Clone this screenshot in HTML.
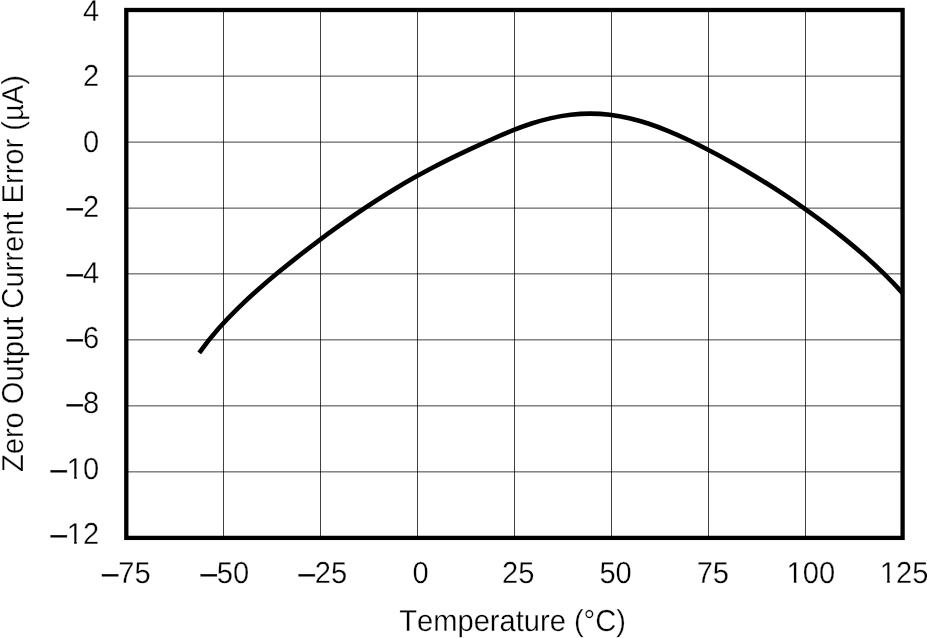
<!DOCTYPE html>
<html lang="en"><head><meta charset="utf-8"><title>Zero Output Current Error vs Temperature</title>
<style>html,body{margin:0;padding:0;background:#fff;width:927px;height:638px;overflow:hidden}</style></head>
<body>
<svg width="927" height="638" viewBox="0 0 927 638" style="display:block;position:absolute;left:0;top:0;font-kerning:none" font-family="'Liberation Sans', Arial, Helvetica, sans-serif" font-size="30.3" fill="#000" text-rendering="geometricPrecision">
<rect x="0" y="0" width="927" height="638" fill="#fff"/>
<g stroke="#000" stroke-width="0.75" fill="none"><line x1="223.50" y1="10.0" x2="223.50" y2="537.9"/><line x1="320.50" y1="10.0" x2="320.50" y2="537.9"/><line x1="417.50" y1="10.0" x2="417.50" y2="537.9"/><line x1="514.50" y1="10.0" x2="514.50" y2="537.9"/><line x1="611.50" y1="10.0" x2="611.50" y2="537.9"/><line x1="708.50" y1="10.0" x2="708.50" y2="537.9"/><line x1="805.50" y1="10.0" x2="805.50" y2="537.9"/><line x1="126.3" y1="76.12" x2="902.6" y2="76.12"/><line x1="126.3" y1="142.12" x2="902.6" y2="142.12"/><line x1="126.3" y1="208.12" x2="902.6" y2="208.12"/><line x1="126.3" y1="273.87" x2="902.6" y2="273.87"/><line x1="126.3" y1="339.87" x2="902.6" y2="339.87"/><line x1="126.3" y1="405.87" x2="902.6" y2="405.87"/><line x1="126.3" y1="471.87" x2="902.6" y2="471.87"/></g>
<path d="M199.25,352.93 C205.77,343.78 212.28,335.74 218.80,328.35 C225.31,320.97 231.83,314.23 238.35,307.87 C244.86,301.51 251.38,295.52 257.90,289.75 C264.41,283.99 270.93,278.46 277.44,273.07 C283.96,267.69 290.48,262.45 296.99,257.33 C303.51,252.21 310.03,247.21 316.54,242.32 C323.06,237.43 329.57,232.64 336.09,227.97 C342.61,223.29 349.12,218.72 355.64,214.27 C362.16,209.81 368.67,205.47 375.19,201.25 C381.70,197.04 388.22,192.95 394.74,189.01 C401.25,185.06 407.77,181.26 414.28,177.60 C420.80,173.94 427.32,170.42 433.83,167.02 C440.35,163.62 446.87,160.35 453.38,157.18 C459.90,154.00 466.41,150.92 472.93,147.89 C479.45,144.87 485.96,141.90 492.48,139.00 C499.00,136.11 505.51,133.29 512.03,130.67 C518.54,128.04 525.06,125.61 531.58,123.50 C538.09,121.38 544.61,119.57 551.12,118.12 C557.64,116.67 564.16,115.56 570.67,114.81 C577.19,114.06 583.71,113.67 590.22,113.66 C596.74,113.64 603.25,114.01 609.77,114.77 C616.29,115.53 622.80,116.68 629.32,118.20 C635.84,119.72 642.35,121.60 648.87,123.77 C655.38,125.95 661.90,128.41 668.42,131.09 C674.93,133.77 681.45,136.67 687.97,139.74 C694.48,142.81 701.00,146.05 707.51,149.42 C714.03,152.79 720.55,156.30 727.06,159.93 C733.58,163.56 740.09,167.30 746.61,171.16 C753.13,175.01 759.64,178.98 766.16,183.07 C772.68,187.15 779.19,191.35 785.71,195.69 C792.22,200.02 798.74,204.48 805.26,209.08 C811.77,213.69 818.29,218.44 824.81,223.35 C831.32,228.25 837.84,233.32 844.35,238.59 C850.87,243.85 857.39,249.32 863.90,255.06 C870.42,260.79 876.94,266.80 883.45,273.19 C889.97,279.58 896.48,286.34 903.00,293.61" fill="none" stroke="#000" stroke-width="4.6" stroke-linecap="butt" stroke-linejoin="round"/>
<rect x="126.3" y="10.0" width="776.30" height="527.90" fill="none" stroke="#000" stroke-width="4.3"/>
<g stroke="#fff" stroke-width="0.3">
<text transform="translate(99.20,21.00) scale(0.96,1)" text-anchor="end">4</text>
<text transform="translate(99.20,86.39) scale(0.96,1)" text-anchor="end">2</text>
<text transform="translate(99.20,151.78) scale(0.96,1)" text-anchor="end">0</text>
<text transform="translate(99.20,217.17) scale(0.96,1)" text-anchor="end"><tspan stroke="#000" stroke-width="0.4">–</tspan>2</text>
<text transform="translate(99.20,282.56) scale(0.96,1)" text-anchor="end"><tspan stroke="#000" stroke-width="0.4">–</tspan>4</text>
<text transform="translate(99.20,347.95) scale(0.96,1)" text-anchor="end"><tspan stroke="#000" stroke-width="0.4">–</tspan>6</text>
<text transform="translate(99.20,413.34) scale(0.96,1)" text-anchor="end"><tspan stroke="#000" stroke-width="0.4">–</tspan>8</text>
<text transform="translate(99.20,478.73) scale(0.96,1)" text-anchor="end"><tspan stroke="#000" stroke-width="0.4">–</tspan>10</text>
<text transform="translate(99.20,544.12) scale(0.96,1)" text-anchor="end"><tspan stroke="#000" stroke-width="0.4">–</tspan>12</text>
<text transform="translate(126.30,583.30) scale(0.96,1)" text-anchor="middle"><tspan stroke="#000" stroke-width="0.4">–</tspan>75</text>
<text transform="translate(224.90,583.30) scale(0.96,1)" text-anchor="middle"><tspan stroke="#000" stroke-width="0.4">–</tspan>50</text>
<text transform="translate(322.90,583.30) scale(0.96,1)" text-anchor="middle"><tspan stroke="#000" stroke-width="0.4">–</tspan>25</text>
<text transform="translate(420.50,583.30) scale(0.96,1)" text-anchor="middle">0</text>
<text transform="translate(518.20,583.30) scale(0.96,1)" text-anchor="middle">25</text>
<text transform="translate(615.60,583.30) scale(0.96,1)" text-anchor="middle">50</text>
<text transform="translate(712.80,583.30) scale(0.96,1)" text-anchor="middle">75</text>
<text transform="translate(810.80,583.30) scale(0.96,1)" text-anchor="middle">100</text>
<text transform="translate(904.10,583.30) scale(0.96,1)" text-anchor="middle">125</text>
<text transform="translate(512.60,630.70) scale(0.96,1)" text-anchor="middle">Temperature (°C)</text>
<text transform="translate(23.40,273.60) rotate(-90) scale(0.961,1)" text-anchor="middle">Zero Output Current Error (µA)</text>
</g>
<g fill="#fff"><rect x="67.84" y="475.25" width="6.29" height="4.73"/><rect x="76.76" y="475.25" width="5.99" height="4.73"/><rect x="67.84" y="540.64" width="6.29" height="4.73"/><rect x="76.76" y="540.64" width="5.99" height="4.73"/><rect x="787.53" y="579.82" width="6.29" height="4.73"/><rect x="796.45" y="579.82" width="5.99" height="4.73"/><rect x="880.83" y="579.82" width="6.29" height="4.73"/><rect x="889.75" y="579.82" width="5.99" height="4.73"/></g>
</svg>
</body></html>
